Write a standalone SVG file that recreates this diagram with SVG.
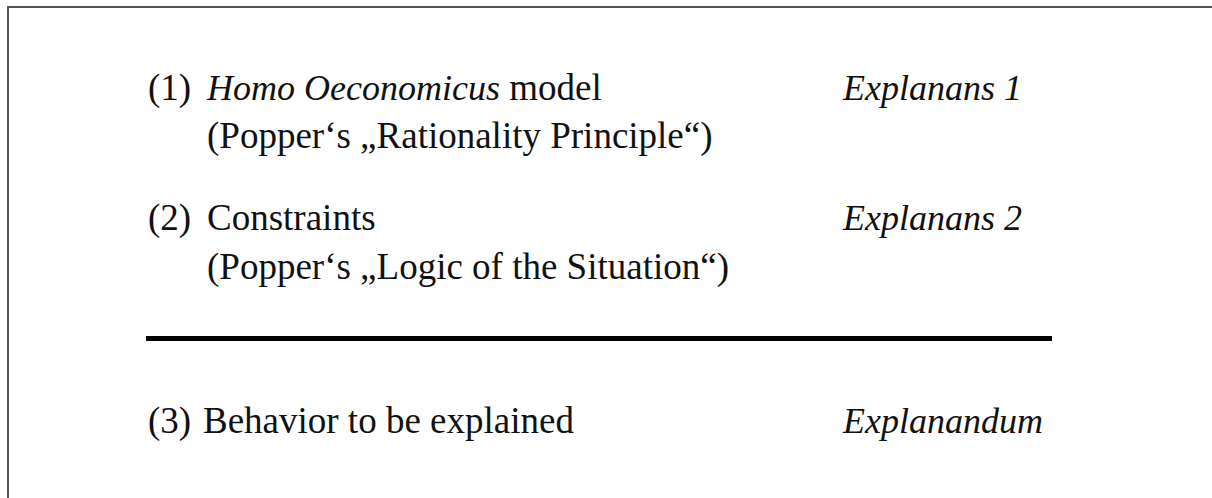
<svg xmlns="http://www.w3.org/2000/svg" width="1212" height="498" viewBox="0 0 1212 498">
<style>
.t{font-family:"Liberation Serif","Times New Roman",serif;font-size:37px;fill:#111}
.i{font-style:italic;font-size:36px}
.frame{fill:none;stroke:#555;stroke-width:2}
</style>
<rect width="1212" height="498" fill="#fff"/>
<path class="frame" d="M8,498 V7 H1212"/>
<g id="premise1">
<text class="t" x="148" y="100">(1)</text>
<text class="t" x="207" y="100"><tspan class="i">Homo Oeconomicus</tspan> model</text>
<text class="t" x="207" y="148">(Popper‘s „Rationality Principle“)</text>
<text class="t i" x="843" y="100">Explanans 1</text>
</g>
<g id="premise2">
<text class="t" x="148" y="230">(2)</text>
<text class="t" x="207" y="230">Constraints</text>
<text class="t" x="207" y="279">(Popper‘s „Logic of the Situation“)</text>
<text class="t i" x="843" y="230">Explanans 2</text>
</g>
<g id="connectors">
<line x1="146" y1="338.5" x2="1052" y2="338.5" stroke="#000" stroke-width="5"/>
</g>
<g id="conclusion">
<text class="t" x="148" y="433">(3)</text>
<text class="t" x="203" y="433">Behavior to be explained</text>
<text class="t i" x="843" y="433">Explanandum</text>
</g>
</svg>
